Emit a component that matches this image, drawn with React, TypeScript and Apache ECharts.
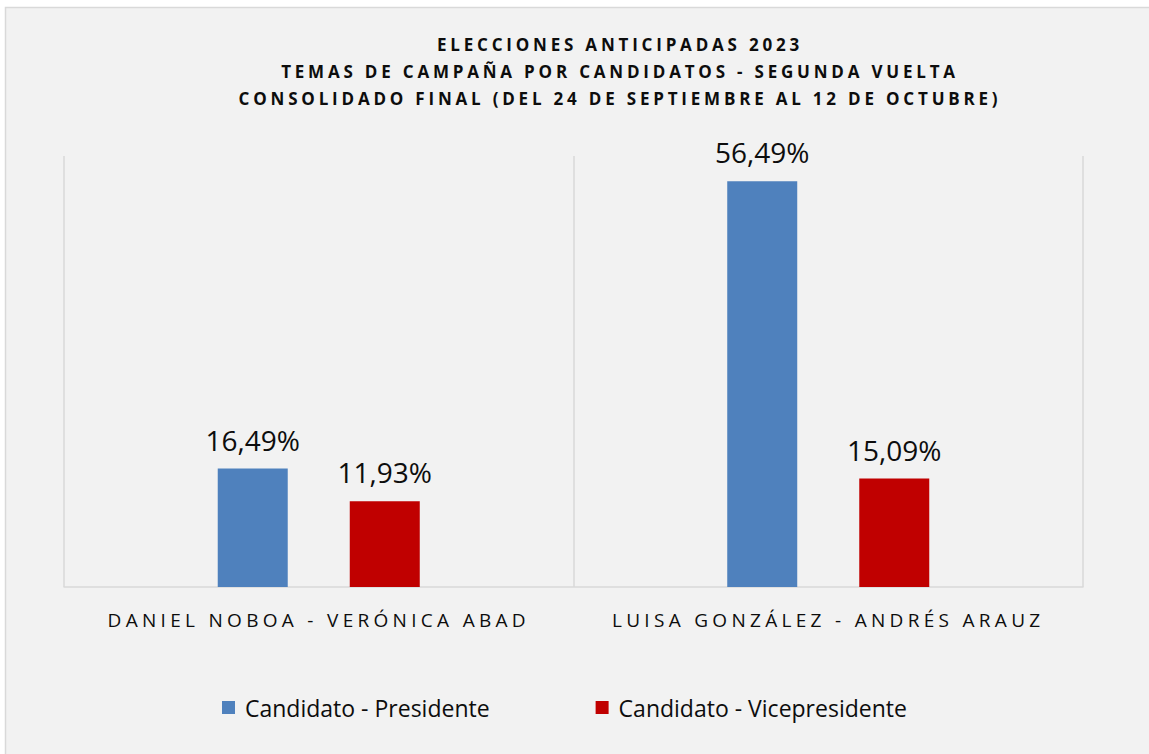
import React, { useEffect, useRef } from 'react';
import * as echarts from 'echarts';

const titleLines = [
  'ELECCIONES ANTICIPADAS 2023',
  'TEMAS DE CAMPAÑA POR CANDIDATOS - SEGUNDA VUELTA',
  'CONSOLIDADO FINAL (DEL 24 DE SEPTIEMBRE AL 12 DE OCTUBRE)',
];
const categories = ['DANIEL NOBOA - VERÓNICA ABAD', 'LUISA GONZÁLEZ - ANDRÉS ARAUZ'];
const seriesNames = ['Candidato - Presidente', 'Candidato - Vicepresidente'];
const presidente = [16.49, 56.49];
const vicepresidente = [11.93, 15.09];
const colors = ['#4f81bd', '#c00000'];

const fmt = (v: number) => v.toFixed(2).replace('.', ',') + '%';
const FONT = '"Open Sans", "Noto Sans", sans-serif';

export default function App() {
  const ref = useRef<HTMLDivElement>(null);
  useEffect(() => {
    document.body.style.margin = '0';
    const chart = echarts.init(ref.current!, undefined, { renderer: 'svg' });
    const labelCommon = {
      show: true,
      position: 'top' as const,
      distance: 15,
      fontSize: 28,
      fontFamily: FONT,
      color: '#0d0d0d',
      formatter: (p: any) => fmt(p.value),
    };
    chart.setOption({
      animation: false,
      backgroundColor: '#ffffff',
      graphic: [
        {
          type: 'rect',
          z: -100,
          silent: true,
          shape: { x: 5.5, y: 7.5, width: 1250, height: 800 },
          style: { fill: '#f2f2f2', stroke: '#d9d9d9', lineWidth: 1.5 },
        },
      ],
      title: {
        text: titleLines.join('\n'),
        left: 615,
        top: 26,
        textAlign: 'center',
        textStyle: {
          fontFamily: FONT,
          fontWeight: 'bold',
          fontSize: 17,
          lineHeight: 27,
          color: '#0d0d0d',
        },
      },
      legend: {
        data: seriesNames,
        left: 217,
        top: 691,
        itemWidth: 13,
        itemHeight: 13,
        itemGap: 106,
        icon: 'rect',
        textStyle: { fontFamily: FONT, fontSize: 23, color: '#0d0d0d', padding: [0, 0, 0, 5] },
      },
      grid: { left: 64, right: 66, top: 156, bottom: 167, containLabel: false },
      xAxis: {
        type: 'category',
        data: categories,
        axisLine: { show: true, lineStyle: { color: '#d9d9d9', width: 1.5 } },
        axisTick: { show: false },
        splitLine: { show: true, lineStyle: { color: '#d9d9d9', width: 1.5 } },
        axisLabel: { fontFamily: FONT, fontSize: 19, color: '#0d0d0d', margin: 23 },
      },
      yAxis: { type: 'value', min: 0, max: 60, show: false },
      series: [
        {
          name: seriesNames[0],
          type: 'bar',
          data: presidente,
          barWidth: 70,
          barGap: '88.6%',
          itemStyle: { color: colors[0] },
          label: labelCommon,
          emphasis: { disabled: true },
        },
        {
          name: seriesNames[1],
          type: 'bar',
          data: vicepresidente,
          barWidth: 70,
          itemStyle: { color: colors[1] },
          label: labelCommon,
          emphasis: { disabled: true },
        },
      ],
    });
    const apply = () => {
      const root = ref.current;
      if (!root) return;
      root.querySelectorAll('text').forEach((t) => {
        const s = t.textContent || '';
        if (titleLines.includes(s)) t.setAttribute('letter-spacing', '3.8');
        else if (categories.includes(s)) t.setAttribute('letter-spacing', '4.3');
      });
    };
    apply();
    chart.on('finished', apply);
    const id = setTimeout(apply, 50);
    return () => {
      clearTimeout(id);
      chart.dispose();
    };
  }, []);
  return <div ref={ref} style={{ position: 'absolute', left: 0, top: 0, width: 1149, height: 754 }} />;
}
